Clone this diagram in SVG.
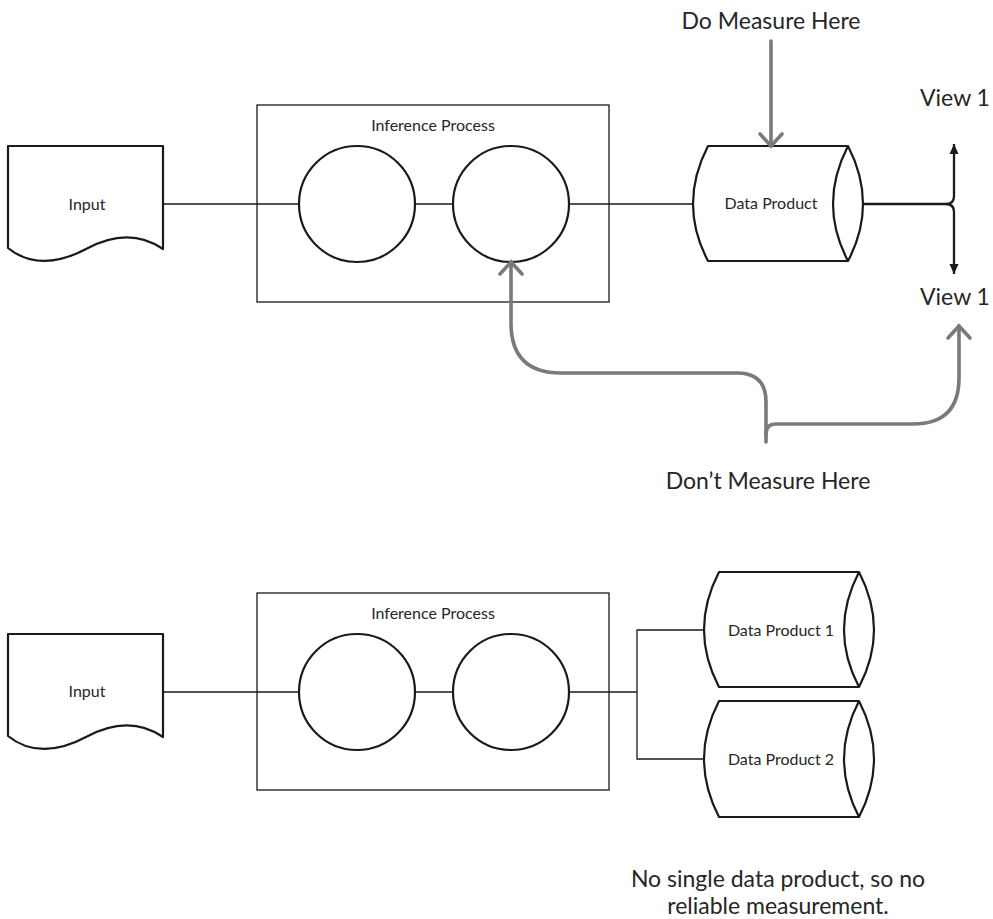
<svg xmlns="http://www.w3.org/2000/svg" width="993" height="919" viewBox="0 0 993 919">
<defs>
<style>
.shape{fill:#fff;stroke:#1a1a1a;stroke-width:2.2;stroke-linejoin:round}
.box{fill:none;stroke:#1a1a1a;stroke-width:1.3}
.conn{fill:none;stroke:#1a1a1a;stroke-width:1.3}
.thick{fill:none;stroke:#1a1a1a;stroke-width:2.3}
.gray{fill:none;stroke:#7a7a7a;stroke-width:3.6;stroke-linecap:round}
.lbl{font-family:Lato,"Open Sans",sans-serif;fill:#262626;text-anchor:middle}
.sm{font-size:16px}
.lg{font-size:23px}
</style>
<marker id="chev" viewBox="-16 -14 20 28" markerWidth="20" markerHeight="28" refX="0" refY="0" orient="auto" markerUnits="userSpaceOnUse"><path d="M-12,-11 L0,0 L-12,11" fill="none" stroke="#7a7a7a" stroke-width="3.6" stroke-linecap="round"/></marker>
<marker id="tri" viewBox="-11 -6 12 12" markerWidth="12" markerHeight="12" refX="0" refY="0" orient="auto" markerUnits="userSpaceOnUse"><path d="M-10,-4.5 L0,0 L-10,4.5Z" fill="#1a1a1a"/></marker>
</defs>
<rect width="993" height="919" fill="#fff"/>

<g id="input1">
<path class="shape" d="M163,249 V146 H8 V248 C30,266 58,264 86,249 C112,235 138,232 163,249 Z"/>
<text class="lbl sm" x="87" y="210">Input</text>
</g>
<g id="process1">
<rect class="box" x="257" y="105" width="352" height="197"/>
<text class="lbl sm" x="433" y="131">Inference Process</text>
</g>
<g id="circle1a"><circle class="shape" cx="357" cy="204" r="58"/></g>
<g id="circle1b"><circle class="shape" cx="511" cy="204" r="58"/></g>
<g id="dataproduct">
<path class="shape" d="M708,146 H848 Q878,204 848,261 H708 Q678,204 708,146 Z"/>
<path class="shape" d="M848,146 Q818,204 848,261" fill="none"/>
<text class="lbl sm" x="771" y="209">Data Product</text>
</g>
<g id="label-do"><text class="lbl lg" x="771" y="29">Do Measure Here</text></g>
<g id="view1-top"><text class="lbl lg" x="955" y="106">View 1</text></g>
<g id="view1-bottom"><text class="lbl lg" x="955" y="305">View 1</text></g>
<g id="label-dont"><text class="lbl lg" x="768" y="489">Don’t Measure Here</text></g>

<g id="input2">
<path class="shape" d="M163,737 V634 H8 V736 C30,754 58,752 86,737 C112,723 138,720 163,737 Z"/>
<text class="lbl sm" x="87" y="697">Input</text>
</g>
<g id="process2">
<rect class="box" x="257" y="593" width="352" height="197"/>
<text class="lbl sm" x="433" y="619">Inference Process</text>
</g>
<g id="circle2a"><circle class="shape" cx="357" cy="692" r="58"/></g>
<g id="circle2b"><circle class="shape" cx="511" cy="692" r="58"/></g>
<g id="dataproduct1">
<path class="shape" d="M719,572 H859 Q889,630 859,687 H719 Q689,630 719,572 Z"/>
<path class="shape" d="M859,572 Q829,630 859,687" fill="none"/>
<text class="lbl sm" x="781" y="636">Data Product 1</text>
</g>
<g id="dataproduct2">
<path class="shape" d="M719,701 H859 Q889,759 859,817 H719 Q689,759 719,701 Z"/>
<path class="shape" d="M859,701 Q829,759 859,817" fill="none"/>
<text class="lbl sm" x="781" y="765">Data Product 2</text>
</g>
<g id="label-none">
<text class="lbl lg" x="778" y="887">No single data product, so no</text>
<text class="lbl lg" x="778" y="914">reliable measurement.</text>
</g>

<g id="connectors">
<path class="conn" d="M163,204 H299"/>
<path class="conn" d="M415,204 H453"/>
<path class="conn" d="M569,204 H693"/>
<path class="thick" d="M863,204 H946"/>
<path class="thick" d="M946,204 Q954,204 954,196 V144" marker-end="url(#tri)"/>
<path class="thick" d="M946,204 Q954,204 954,212 V274" marker-end="url(#tri)"/>
<path class="gray" d="M771,41 V146" marker-end="url(#chev)"/>
<path class="gray" d="M766,442 V402 Q766,373 737,373 H561 Q511,373 511,323 V262" marker-end="url(#chev)"/>
<path class="gray" d="M766,434 Q766,424 776,424 H913 Q959,424 959,378 V326" marker-end="url(#chev)"/>

<path class="conn" d="M163,692 H299"/>
<path class="conn" d="M415,692 H453"/>
<path class="conn" d="M569,692 H637"/>
<path class="conn" d="M704,630 H637 V759 H704"/>
</g>
</svg>
